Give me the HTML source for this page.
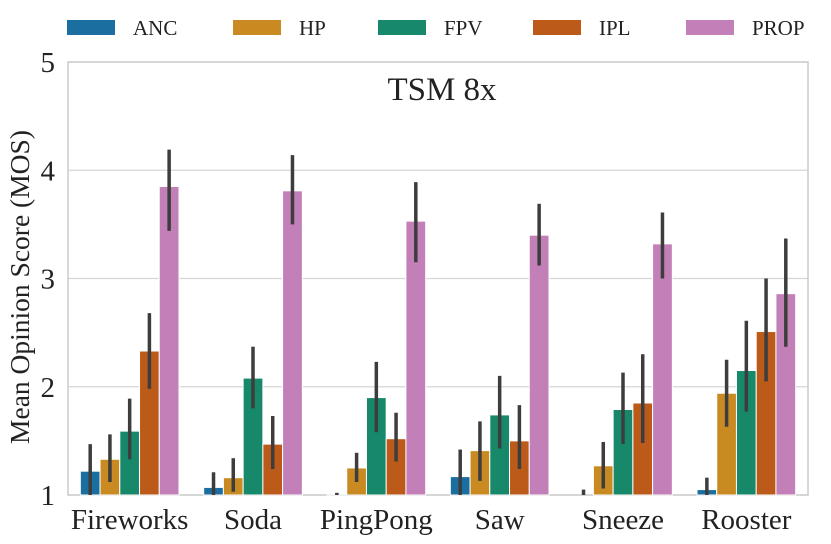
<!DOCTYPE html>
<html><head><meta charset="utf-8"><style>
body{margin:0;background:#fff}
svg{display:block;font-family:"Liberation Serif",serif}
</style></head><body>
<svg id="chart" width="831" height="544"></svg>
<script>
const categories=["Fireworks","Soda","PingPong","Saw","Sneeze","Rooster"];
const seriesNames=["ANC","HP","FPV","IPL","PROP"];
const colors=["#1b6fa0","#c98a22","#17896a","#bb5a19","#c27fb8"];
const ancVals=[1.22,1.07,1.01,1.17,1.0,1.05];
const hpVals=[1.33,1.16,1.25,1.41,1.27,1.94];
const fpvVals=[1.59,2.08,1.90,1.74,1.79,2.15];
const iplVals=[2.33,1.47,1.52,1.50,1.85,2.51];
const propVals=[3.85,3.81,3.53,3.40,3.32,2.86];
const ancLo=[1.0,0.98,1.0,1.0,1.0,1.0], ancHi=[1.47,1.21,1.02,1.42,1.05,1.16];
const hpLo=[1.12,1.03,1.12,1.13,1.06,1.63], hpHi=[1.56,1.34,1.39,1.68,1.49,2.25];
const fpvLo=[1.33,1.80,1.58,1.43,1.47,1.77], fpvHi=[1.89,2.37,2.23,2.10,2.13,2.61];
const iplLo=[1.98,1.24,1.31,1.24,1.48,2.05], iplHi=[2.68,1.73,1.76,1.83,2.30,3.00];
const propLo=[3.44,3.50,3.15,3.12,3.00,2.37], propHi=[4.19,4.14,3.89,3.69,3.61,3.37];
const yTicks=[1,2,3,4,5];

const vals=[ancVals,hpVals,fpvVals,iplVals,propVals];
const los=[ancLo,hpLo,fpvLo,iplLo,propLo];
const his=[ancHi,hpHi,fpvHi,iplHi,propHi];
const svg=document.getElementById('chart');
const NS="http://www.w3.org/2000/svg";
const L=68,R=808,T=62,B=495;
const y=v=>B-(v-1)/(5-1)*(B-T);
const pitch=(R-L)/categories.length;
const bw=pitch*0.8/seriesNames.length;
const x=(g,s)=>L+pitch*g+pitch*0.1+bw*s;
function mk(tag,attrs,txt){const e=document.createElementNS(NS,tag);for(const k in attrs)e.setAttribute(k,attrs[k]);if(txt!==undefined)e.textContent=txt;svg.appendChild(e);return e;}

yTicks.forEach(t=>{
  const gl=mk('line',{x1:L,x2:R,y1:y(t),y2:y(t),stroke:'#d6d6d6','stroke-width':1.2});
  
  
  const tl=mk('text',{x:L-13,y:y(t)+10,'text-anchor':'end','font-size':29,fill:'#222'},t);
  
  
});
const frame=mk('rect',{x:L,y:T,width:R-L,height:B-T,fill:'none',stroke:'#cccccc','stroke-width':1.5});



categories.forEach((c,g)=>{
  seriesNames.forEach((s,i)=>{
    const v=vals[i][g];
    const b=mk('rect',{x:x(g,i),y:y(v),width:bw,height:B-y(v),fill:colors[i],stroke:'#fff','stroke-width':1});
    
    
  });
  seriesNames.forEach((s,i)=>{
    const cx=x(g,i)+bw/2;
    const e=mk('line',{x1:cx,x2:cx,y1:y(Math.max(1,los[i][g])),y2:y(his[i][g]),stroke:'#3d3d3d','stroke-width':3.5});
    
    
  });
  const xl=mk('text',{x:L+pitch*(g+0.5),y:529,'text-anchor':'middle','font-size':29,fill:'#222'},c);
  
  
});

const title=mk('text',{x:442,y:100,'text-anchor':'middle','font-size':33,fill:'#222'},'TSM 8x');


const yl=mk('text',{x:0,y:0,'text-anchor':'middle','font-size':27.5,fill:'#222',transform:'translate(29,287) rotate(-90)'},'Mean Opinion Score (MOS)');



const legX=[67,233,378,533,686];
seriesNames.forEach((s,i)=>{
  const p=mk('rect',{x:legX[i],y:20,width:48,height:15,fill:colors[i]});
  
  
  const t=mk('text',{x:legX[i]+66,y:35,'font-size':21,fill:'#222'},s);
  
  
});
</script>
</body></html>
